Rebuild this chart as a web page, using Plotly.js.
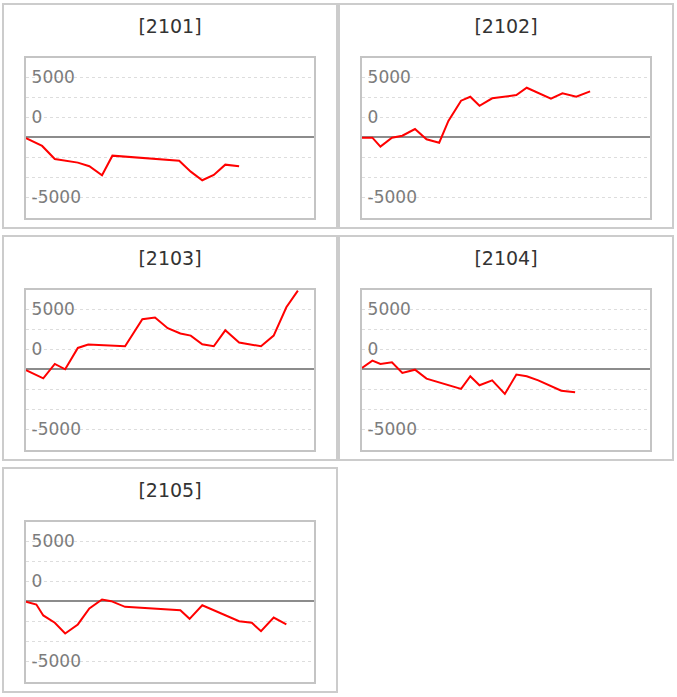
<!DOCTYPE html>
<html>
<head>
<meta charset="utf-8">
<script src="https://cdn.plot.ly/plotly-3.0.1.min.js"></script>
<style>
  body { margin: 0; background: #fff; }
  #wrap { position: absolute; left: 2px; top: 3px; width: 672px; }
  .panel {
    float: left;
    width: 332px;
    height: 222px;
    border: 2px solid #cccccc;
    margin-bottom: 6px;
  }
</style>
</head>
<body>
<div id="wrap">
  <div class="panel" id="p2101"></div>
  <div class="panel" id="p2102"></div>
  <div class="panel" id="p2103"></div>
  <div class="panel" id="p2104"></div>
  <div class="panel" id="p2105"></div>
</div>
<script>
// panel titles
const titles = ['[2101]', '[2102]', '[2103]', '[2104]', '[2105]'];

// x positions (trading days) and values
const x2101 = [0, 1.4, 2.5, 4.5, 5.5, 6.6, 7.5, 13.3, 14.3, 15.3, 16.3, 17.3, 18.5];
const y2101 = [-80, -720, -1810, -2110, -2410, -3160, -1530, -1950, -2860, -3580, -3140, -2280, -2410];

const x2102 = [0, 0.9, 1.6, 2.6, 3.5, 4.6, 5.6, 6.7, 7.5, 8.6, 9.4, 10.2, 11.3, 13.4, 14.3, 16.4, 17.4, 18.6, 19.8];
const y2102 = [-30, -30, -780, -30, 130, 690, -170, -450, 1360, 3050, 3380, 2630, 3250, 3520, 4130, 3220, 3670, 3380, 3830];

const x2103 = [0, 1.5, 2.5, 3.4, 4.5, 5.4, 8.6, 10.1, 11.2, 12.3, 13.4, 14.3, 15.3, 16.3, 17.3, 18.5, 20.4, 21.5, 22.6, 23.6];
const y2103 = [-80, -750, 450, 0, 1780, 2060, 1920, 4170, 4310, 3420, 2980, 2810, 2080, 1920, 3250, 2230, 1920, 2810, 5170, 6560];

const x2104 = [0, 0.9, 1.6, 2.6, 3.5, 4.6, 5.6, 8.6, 9.4, 10.2, 11.3, 12.4, 13.4, 14.3, 15.3, 17.3, 18.5];
const y2104 = [120, 720, 450, 580, -300, -30, -780, -1630, -580, -1330, -920, -2050, -440, -580, -920, -1780, -1920];

const x2105 = [0, 0.9, 1.5, 2.5, 3.4, 4.5, 5.5, 6.6, 7.4, 8.6, 13.4, 14.2, 15.3, 18.5, 19.6, 20.4, 21.5, 22.6];
const y2105 = [-40, -270, -1180, -1790, -2680, -1930, -600, 150, 10, -460, -740, -1460, -330, -1660, -1790, -2490, -1350, -1930];

// gridlines and their (odd) labels as drawn in the original
const gridVals = [-5000, -3333, -1667, 0, 1667, 3333, 5000];
const gridText = ['-5000', '', '', '', '0', '', '5000'];

const series = [
  [x2101, y2101],
  [x2102, y2102],
  [x2103, y2103],
  [x2104, y2104],
  [x2105, y2105]
];

const fontFamily = 'DejaVu Sans, Verdana, sans-serif';

function drawPanel(idx) {
  var trace = {
    x: series[idx][0],
    y: series[idx][1],
    mode: 'lines',
    line: { color: '#ff0000', width: 2 },
    hoverinfo: 'skip'
  };

  var layout = {
    width: 332,
    height: 222,
    margin: { l: 22, r: 22, t: 53, b: 9 },
    paper_bgcolor: '#ffffff',
    plot_bgcolor: '#ffffff',
    showlegend: false,
    title: {
      text: titles[idx],
      font: { family: fontFamily, size: 19, color: '#333333' },
      x: 0.5,
      xanchor: 'center',
      yref: 'container',
      y: 0.905,
      yanchor: 'middle'
    },
    xaxis: {
      range: [0, 25],
      showgrid: false,
      zeroline: false,
      showticklabels: false,
      ticks: '',
      showline: true,
      mirror: true,
      linecolor: '#c4c4c4',
      linewidth: 2,
      fixedrange: true
    },
    yaxis: {
      range: [-6725, 6608],
      tickvals: gridVals,
      ticktext: gridText,
      ticks: '',
      ticklabelposition: 'inside',
      ticklabelstandoff: 6,
      tickfont: { family: fontFamily, size: 17, color: '#7c7c7c' },
      showgrid: true,
      gridcolor: '#dddddd',
      gridwidth: 1,
      griddash: 'dot',
      zeroline: true,
      zerolinecolor: '#8c8c8c',
      zerolinewidth: 2,
      showline: true,
      mirror: true,
      linecolor: '#c4c4c4',
      linewidth: 2,
      fixedrange: true
    }
  };

  Plotly.newPlot('p' + titles[idx].slice(1, 5), [trace], layout, { displayModeBar: false, staticPlot: true });
}

window.addEventListener('load', (event) => {
  for (var i = 0; i < titles.length; i++) {
    drawPanel(i);
  }
});
</script>
</body>
</html>
